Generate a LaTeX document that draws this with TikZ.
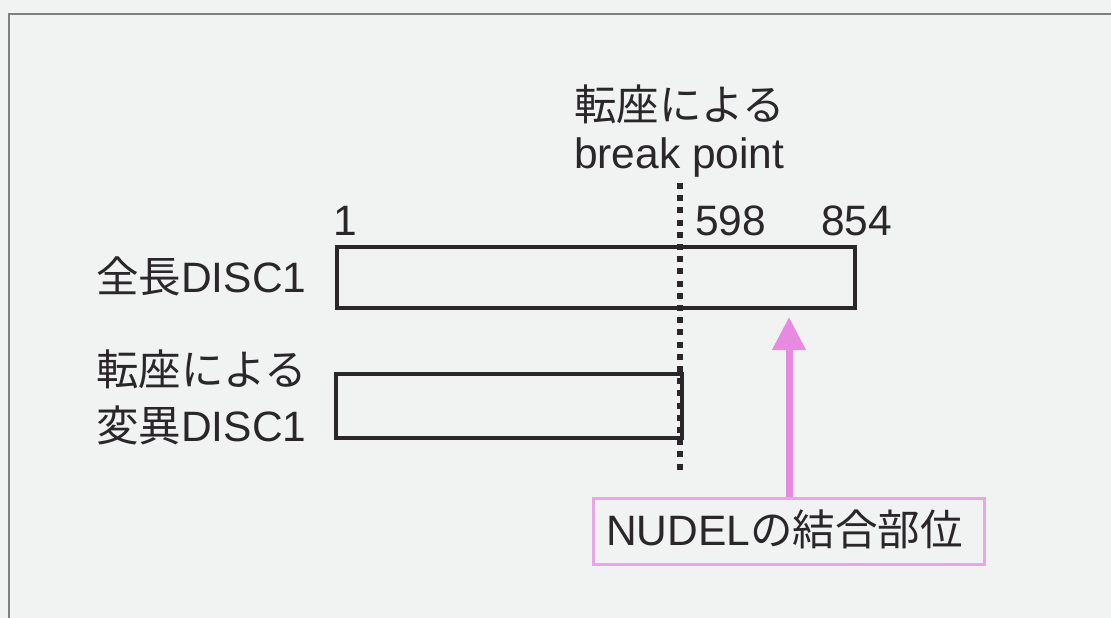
\documentclass[tikz,border=0pt]{standalone}
\usepackage{fontspec}
\setmainfont{Liberation Sans}
\newfontfamily\jp{Noto Sans CJK JP}
\usetikzlibrary{arrows.meta}
\definecolor{bgc}{HTML}{F1F3F3}
\definecolor{ink}{HTML}{2A262A}
\definecolor{pinkarrow}{HTML}{E68AE2}
\definecolor{pinkbox}{HTML}{E8A6E8}
\definecolor{framegray}{HTML}{808080}
\begin{document}
\begin{tikzpicture}[x=1pt,y=-1pt,
  txt/.style={inner sep=0pt, anchor=base west, text=ink, font=\fontsize{42.5}{50}\selectfont},
  bar/.style={draw=ink, line width=3.5pt, inner sep=0pt, anchor=north west},
  bpline/.style={draw=ink, line width=6pt, dash pattern=on 6pt off 6.2pt},
  sitebox/.style={draw=pinkbox, line width=2.5pt, inner sep=0pt, anchor=north west},
  sitearrow/.style={draw=pinkarrow, fill=pinkarrow, line width=7pt, -{Triangle[length=33pt,width=32pt]}}]
\useasboundingbox (0,0) rectangle (1111,618);
\clip (0,0) rectangle (1111,618);
\fill[bgc] (0,0) rectangle (1111,618);
\draw[framegray, line width=2pt] (9,640) -- (9,14) -- (1130,14);

% bars
\node[bar, minimum width=518pt, minimum height=61pt] (full) at (335,245) {};
\node[bar, minimum width=346pt, minimum height=64pt] (mut) at (334,372) {};

% break point line
\coordinate (bptop) at (680,183);
\coordinate (bpbot) at (680,475);
\draw[bpline] (bptop) -- (bpbot);

% texts
\node[txt] (bp1) at (574,121) {\jp 転座による};
\node[txt] (bp2) at (574,168) {break point};
\node[txt] (n1) at (333,235) {1};
\node[txt] (n598) at (695,235) {598};
\node[txt] (n854) at (821,235) {854};
\node[txt] (lab1) at (96,292) {{\jp 全長}DISC1};
\node[txt] (lab2a) at (96,385) {\jp 転座による};
\node[txt] (lab2b) at (96,441) {{\jp 変異}DISC1};

% binding site box
\node[sitebox, minimum width=391pt, minimum height=66pt] (site) at (592,497) {};
\node[txt] (sitetxt) at (606,545) {NUDEL{\jp の結合部位}};

% arrow
\coordinate (tip) at (789,317);
\draw[sitearrow] (site.north -| tip) -- (tip);
\end{tikzpicture}
\end{document}
